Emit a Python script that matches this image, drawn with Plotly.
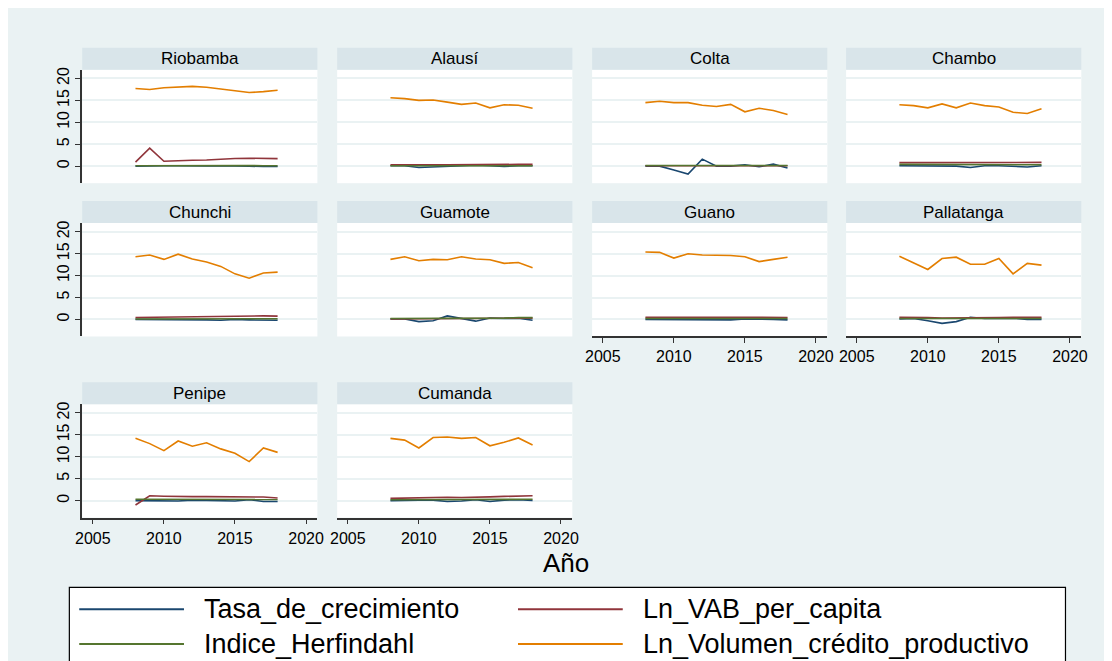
import plotly.graph_objects as go

# data (years 2008-2018)
years = [2008, 2009, 2010, 2011, 2012, 2013, 2014, 2015, 2016, 2017, 2018]

municipios = ["Riobamba", "Alausí", "Colta", "Chambo",
              "Chunchi", "Guamote", "Guano", "Pallatanga",
              "Penipe", "Cumanda"]

tasa_de_crecimiento = {
    "Riobamba":   [0.0, 0.1, 0.1, 0.1, 0.0, 0.05, 0.1, 0.1, 0.0, -0.1, -0.1],
    "Alausí":     [0.1, 0.1, -0.3, -0.2, 0.0, 0.1, 0.2, 0.1, -0.1, 0.1, 0.1],
    "Colta":      [0.0, 0.0, -0.9, -1.8, 1.6, 0.0, 0.0, 0.3, -0.15, 0.45, -0.45],
    "Chambo":     [0.1, 0.1, 0.0, 0.0, 0.0, -0.3, 0.1, 0.1, 0.0, -0.2, 0.1],
    "Chunchi":    [0.0, 0.0, -0.1, -0.1, -0.1, -0.1, -0.2, 0.0, -0.1, -0.2, -0.2],
    "Guamote":    [0.1, 0.1, -0.5, -0.3, 0.8, 0.2, -0.4, 0.3, 0.2, 0.3, -0.2],
    "Guano":      [0.0, 0.0, -0.1, -0.1, 0.0, 0.0, -0.1, 0.1, 0.1, 0.0, -0.1],
    "Pallatanga": [0.1, 0.2, -0.3, -0.9, -0.5, 0.5, 0.2, 0.3, 0.3, 0.0, 0.0],
    "Penipe":     [0.0, 0.0, -0.1, -0.1, 0.1, 0.0, 0.0, -0.1, 0.2, -0.2, -0.2],
    "Cumanda":    [0.0, 0.1, 0.1, 0.1, -0.2, -0.1, 0.2, -0.2, 0.1, 0.2, 0.0],
}

ln_vab_per_capita = {
    "Riobamba":   [0.9, 4.1, 1.1, 1.3, 1.35, 1.4, 1.6, 1.75, 1.8, 1.75, 1.7],
    "Alausí":     [0.3, 0.35, 0.3, 0.3, 0.3, 0.35, 0.4, 0.4, 0.35, 0.4, 0.4],
    "Colta":      [0.1, 0.1, 0.1, 0.1, 0.1, 0.1, 0.05, 0.1, 0.1, 0.1, 0.1],
    "Chambo":     [0.8, 0.8, 0.8, 0.8, 0.75, 0.7, 0.75, 0.8, 0.85, 0.85, 0.85],
    "Chunchi":    [0.45, 0.5, 0.55, 0.6, 0.65, 0.7, 0.7, 0.75, 0.8, 0.8, 0.75],
    "Guamote":    [0.1, 0.1, 0.1, 0.15, 0.15, 0.2, 0.2, 0.25, 0.25, 0.3, 0.3],
    "Guano":      [0.5, 0.5, 0.45, 0.4, 0.4, 0.45, 0.45, 0.5, 0.5, 0.5, 0.45],
    "Pallatanga": [0.5, 0.5, 0.4, 0.3, 0.3, 0.35, 0.4, 0.45, 0.5, 0.5, 0.5],
    "Penipe":     [-1.0, 1.1, 1.0, 0.9, 0.9, 0.9, 0.9, 0.85, 0.95, 0.8, 0.6],
    "Cumanda":    [0.5, 0.6, 0.65, 0.8, 0.75, 0.7, 0.85, 0.85, 0.95, 1.1, 1.1],
}

indice_herfindahl = {
    "Riobamba":   [0.1, 0.12, 0.1, 0.12, 0.1, 0.1, 0.15, 0.15, 0.12, 0.1, 0.1],
    "Alausí":     [0.1, 0.1, 0.1, 0.15, 0.15, 0.2, 0.15, 0.15, 0.1, 0.15, 0.1],
    "Colta":      [0.15, 0.15, 0.15, 0.15, 0.15, 0.15, 0.15, 0.15, 0.15, 0.15, 0.15],
    "Chambo":     [0.4, 0.4, 0.4, 0.4, 0.35, 0.3, 0.3, 0.35, 0.3, 0.3, 0.3],
    "Chunchi":    [0.1, 0.1, 0.15, 0.15, 0.15, 0.2, 0.2, 0.15, 0.2, 0.15, 0.15],
    "Guamote":    [0.2, 0.2, 0.2, 0.2, 0.2, 0.3, 0.3, 0.3, 0.3, 0.4, 0.4],
    "Guano":      [0.2, 0.2, 0.2, 0.2, 0.25, 0.25, 0.25, 0.25, 0.25, 0.25, 0.2],
    "Pallatanga": [0.2, 0.2, 0.2, 0.2, 0.2, 0.2, 0.25, 0.25, 0.25, 0.2, 0.2],
    "Penipe":     [0.3, 0.3, 0.3, 0.3, 0.3, 0.3, 0.3, 0.3, 0.3, 0.3, 0.25],
    "Cumanda":    [0.2, 0.2, 0.2, 0.2, 0.2, 0.2, 0.3, 0.3, 0.3, 0.3, 0.3],
}

ln_volumen_credito = {
    "Riobamba":   [17.7, 17.5, 17.9, 18.0, 18.2, 18.0, 17.6, 17.2, 16.8, 17.0, 17.3],
    "Alausí":     [15.6, 15.4, 15.0, 15.1, 14.6, 14.1, 14.4, 13.3, 14.0, 13.9, 13.2],
    "Colta":      [14.5, 14.8, 14.5, 14.5, 13.9, 13.6, 14.1, 12.4, 13.2, 12.7, 11.8],
    "Chambo":     [14.0, 13.8, 13.3, 14.2, 13.3, 14.4, 13.8, 13.5, 12.3, 12.0, 13.1],
    "Chunchi":    [14.3, 14.7, 13.7, 14.9, 13.8, 13.1, 12.1, 10.4, 9.4, 10.6, 10.8],
    "Guamote":    [13.7, 14.3, 13.4, 13.7, 13.6, 14.3, 13.8, 13.6, 12.8, 13.0, 11.8],
    "Guano":      [15.4, 15.3, 14.0, 15.0, 14.7, 14.7, 14.6, 14.3, 13.2, 13.7, 14.2],
    "Pallatanga": [14.4, 12.9, 11.4, 13.9, 14.2, 12.6, 12.6, 13.9, 10.4, 12.8, 12.4],
    "Penipe":     [14.2, 13.0, 11.4, 13.6, 12.4, 13.2, 11.8, 10.8, 8.9, 12.0, 11.0],
    "Cumanda":    [14.2, 13.8, 12.0, 14.4, 14.5, 14.2, 14.4, 12.5, 13.3, 14.3, 12.7],
}

series_names = ["Tasa_de_crecimiento", "Ln_VAB_per_capita",
                "Indice_Herfindahl", "Ln_Volumen_crédito_productivo"]
series_data = [tasa_de_crecimiento, ln_vab_per_capita,
               indice_herfindahl, ln_volumen_credito]
series_colors = ["#1a476f", "#90353b", "#55752f", "#e37e00"]

x_ticks = [2005, 2010, 2015, 2020]
y_ticks = [0, 5, 10, 15, 20]

# page has an 8px body margin, so the figure is sized to fit inside the window
OFF = 8
W, H = 1112 - OFF, 661 - OFF
BG = "#eaf2f3"
STRIP = "#d9e5ea"
FONT = "Liberation Sans, Arial, sans-serif"

# layout positions in window pixels
col_x0 = [76, 334, 592, 849]
panel_w = 238
row_y = [(67, 181), (221, 335), (403, 517)]
strip_h = 22


def px(x):
    return (x - OFF) / W


def py(y):
    return 1 - (y - OFF) / H


fig = go.Figure()
shapes = []
annotations = []
layout_axes = {}

for i, name in enumerate(municipios):
    r, c = divmod(i, 4)
    x0 = col_x0[c]
    x1 = x0 + panel_w
    y_top, y_bot = row_y[r]
    n = "" if i == 0 else str(i + 1)

    for label, data, color in zip(series_names, series_data, series_colors):
        fig.add_trace(go.Scatter(
            x=years, y=data[name], mode="lines", name=label,
            line=dict(color=color, width=1.6),
            xaxis="x" + n, yaxis="y" + n, showlegend=False,
        ))

    bottom = (r == 2) or (r == 1 and c >= 2)
    left = c == 0
    layout_axes["xaxis" + n] = dict(
        domain=[px(x0), px(x1)], anchor="y" + n,
        range=[2004.25, 2020.8], tickvals=x_ticks,
        showticklabels=bottom, ticks="outside" if bottom else "",
        ticklen=5, tickcolor="#333333",
        showline=bottom, linecolor="#333333", linewidth=1.5,
        showgrid=False, zeroline=False,
        tickfont=dict(size=16, color="black", family=FONT),
    )
    layout_axes["yaxis" + n] = dict(
        domain=[py(y_bot), py(y_top)], anchor="x" + n,
        range=[-3.9, 22.0], tickvals=y_ticks,
        showticklabels=left, ticks="outside" if left else "",
        ticklen=5, tickcolor="#333333", tickangle=-90,
        showline=left, linecolor="#333333", linewidth=1.5,
        showgrid=True, gridcolor=BG, gridwidth=1.5, zeroline=False,
        tickfont=dict(size=16, color="black", family=FONT),
    )

    # panel strip
    shapes.append(dict(type="rect", xref="paper", yref="paper",
                       x0=px(x0), x1=px(x1), y0=py(y_top), y1=py(y_top - strip_h),
                       fillcolor=STRIP, line=dict(width=0), layer="below"))
    annotations.append(dict(text=name, xref="paper", yref="paper",
                            x=px((x0 + x1) / 2), y=py(y_top - strip_h / 2),
                            showarrow=False, xanchor="center", yanchor="middle",
                            font=dict(size=17, color="black", family=FONT)))

# x title
annotations.append(dict(text="Año", xref="paper", yref="paper",
                        x=px(566), y=py(563), showarrow=False,
                        xanchor="center", yanchor="middle",
                        font=dict(size=26, color="black", family=FONT)))

# legend box (runs off the bottom edge, as in the reference)
shapes.append(dict(type="rect", xref="paper", yref="paper",
                   x0=px(63), x1=px(1071), y0=py(690), y1=py(587),
                   fillcolor="white", line=dict(color="black", width=1.2), layer="below"))
legend_pos = [(73, 609), (517, 609), (73, 644), (517, 644)]
for k, (lx, ly) in enumerate(legend_pos):
    shapes.append(dict(type="line", xref="paper", yref="paper",
                       x0=px(lx), x1=px(lx + 106), y0=py(ly), y1=py(ly),
                       line=dict(color=series_colors[k], width=2)))
    annotations.append(dict(text=series_names[k], xref="paper", yref="paper",
                            x=px(lx + 124), y=py(ly), showarrow=False,
                            xanchor="left", yanchor="middle",
                            font=dict(size=27, color="black", family=FONT)))

fig.update_layout(
    width=W, height=H,
    margin=dict(l=0, r=0, t=0, b=0),
    paper_bgcolor=BG, plot_bgcolor="white",
    font=dict(family=FONT),
    shapes=shapes, annotations=annotations,
    showlegend=False,
    **layout_axes,
)

fig.write_html("out.html")
